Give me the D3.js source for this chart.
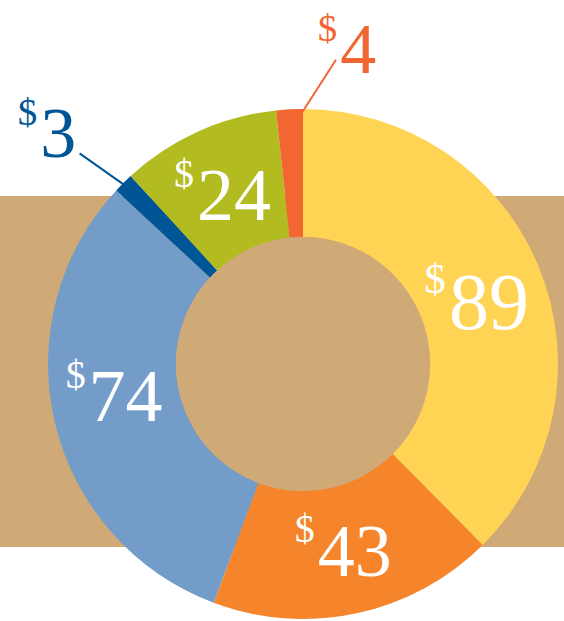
<!DOCTYPE html>
<html>
<head>
<meta charset="utf-8">
<script src="https://cdn.jsdelivr.net/npm/d3@7"></script>
<style>
  html, body { margin: 0; padding: 0; background: #fff; }
  svg { display: block; }
  text { font-family: "Liberation Serif", "Times New Roman", serif; }
</style>
</head>
<body>
<div id="chart"></div>
<script>
// slice values, clockwise from 12 o'clock
const values = [89, 43, 74, 3, 24, 4];
const colors = ["#FFD455", "#F6842A", "#739CC8", "#005596", "#B2BB1F", "#F26631"];
// labels placed inside the ring (true) or outside with a leader line (false)
const inside = [true, true, true, false, true, false];

const width = 564, height = 621;
const cx = 303, cy = 364;
const outerR = 255, innerR = 127;
const beige = "#CFAA77";

const svg = d3.select("#chart").append("svg")
    .attr("width", width)
    .attr("height", height);

// background band behind the donut
svg.append("rect")
    .attr("x", 0).attr("y", 196)
    .attr("width", width).attr("height", 351)
    .attr("fill", beige);

let g = svg.append("g")
    .attr("transform", `translate(${cx},${cy})`);

let pie = d3.pie().sort(null).value(d => d);
let arcs = pie(values);

let arc = d3.arc().innerRadius(innerR).outerRadius(outerR);

g.selectAll(".slice")
    .data(arcs)
    .enter()
    .append("path")
    .attr("class", "slice")
    .attr("d", arc)
    .attr("fill", (d, i) => colors[i]);

g.append("circle")
    .attr("r", innerR)
    .attr("fill", beige);

function polar(angle, r) {
    return [r * Math.sin(angle), -r * Math.cos(angle)];
}

// nudges for inside labels (vertical shift of baseline)
const insideNudge = {0: [-3, 38], 1: [0, 25], 2: [-3, 13], 4: [-2, 30]};
const insideSize = {0: 80, 1: 74, 2: 74, 4: 74};

arcs.forEach((d, i) => {
    if (!inside[i]) return;
    let mid = (d.startAngle + d.endAngle) / 2;
    let p = polar(mid, (innerR + outerR) / 2);
    let n = insideNudge[i];
    let size = insideSize[i];
    let t = g.append("text")
        .attr("x", p[0] + n[0])
        .attr("y", p[1] + n[1])
        .attr("text-anchor", "middle")
        .attr("fill", "#fff");
    t.append("tspan")
        .attr("font-size", size * 0.54)
        .attr("dy", -size * 0.45)
        .text("$");
    t.append("tspan")
        .attr("font-size", size)
        .attr("dx", 3)
        .attr("dy", size * 0.45)
        .text(values[i]);
});

// outside labels: leader line from the ring outward, label at its end
const outside = [
    {i: 3, lineFrom: [-0.785, 254], lineTo: [-0.815, 307], label: [47, 157]},
    {i: 5, lineFrom: [-0.005, 251], lineTo: [0.108, 306], label: [347, 73]}
];

outside.forEach(o => {
    let a = polar(o.lineFrom[0], o.lineFrom[1]);
    let b = polar(o.lineTo[0], o.lineTo[1]);
    g.append("line")
        .attr("x1", a[0]).attr("y1", a[1])
        .attr("x2", b[0]).attr("y2", b[1])
        .attr("stroke", colors[o.i])
        .attr("stroke-width", 2);

    let size = 72;
    let t = svg.append("text")
        .attr("x", o.label[0])
        .attr("y", o.label[1])
        .attr("text-anchor", "middle")
        .attr("fill", colors[o.i]);
    t.append("tspan")
        .attr("font-size", size * 0.54)
        .attr("dy", -size * 0.45)
        .text("$");
    t.append("tspan")
        .attr("font-size", size)
        .attr("dx", 3)
        .attr("dy", size * 0.45)
        .text(values[o.i]);
});
</script>
</body>
</html>
